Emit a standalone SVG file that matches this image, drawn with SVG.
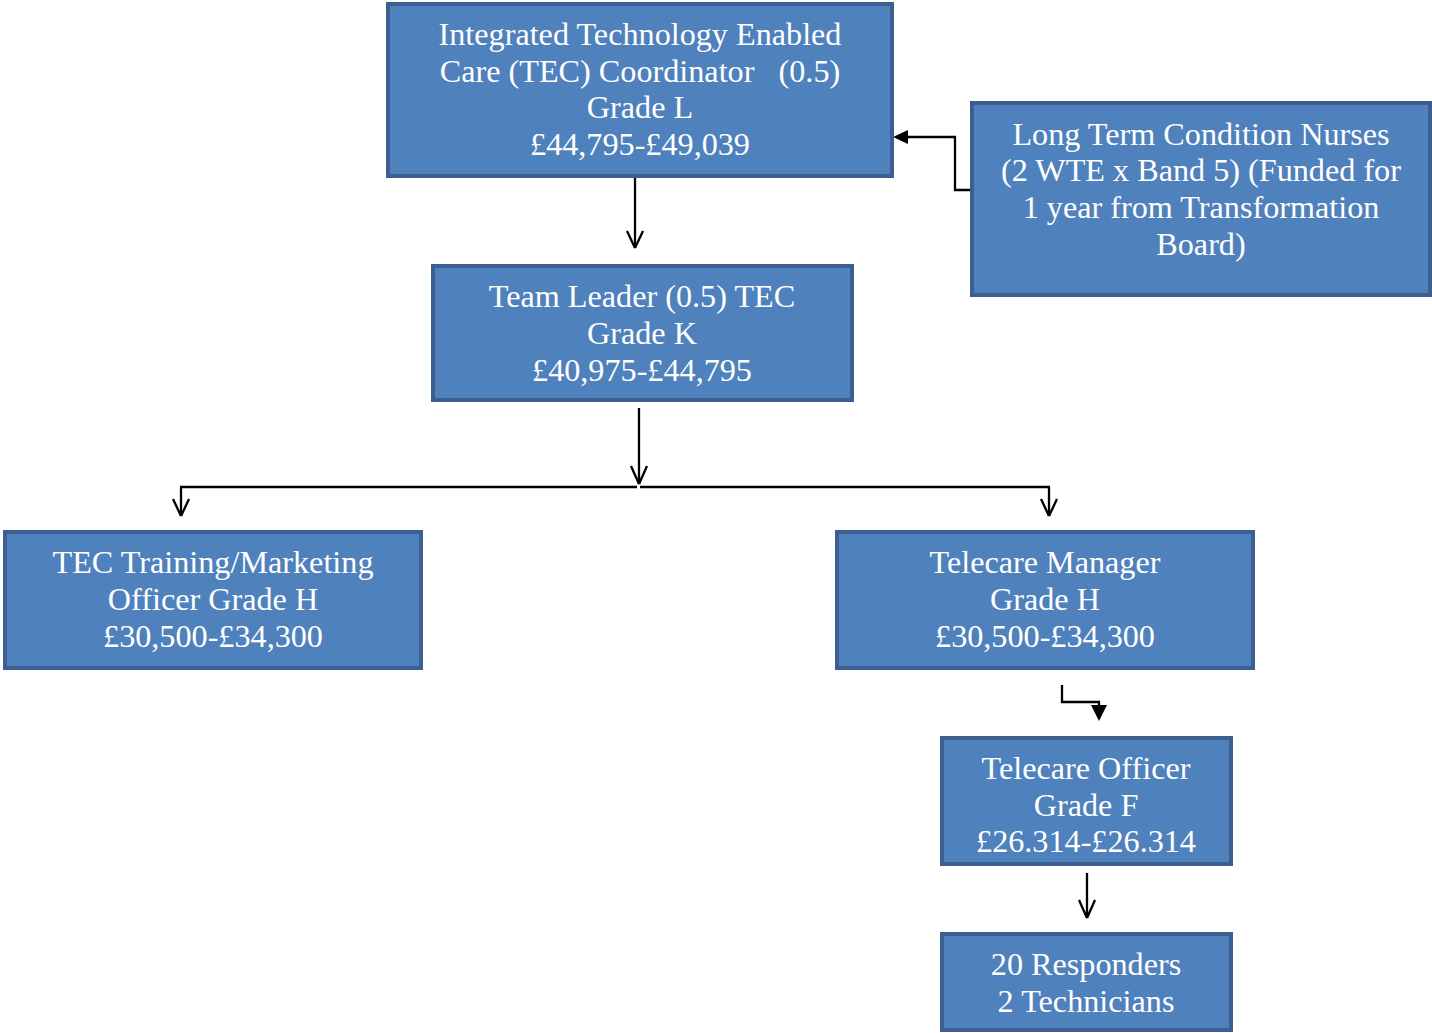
<svg xmlns="http://www.w3.org/2000/svg" width="1432" height="1033" viewBox="0 0 1432 1033">
<style>
.box{fill:#4f81bd;stroke:#3b6090;stroke-width:4}
.t{font-family:"Liberation Serif","Times New Roman",serif;font-size:32.2px;fill:#ffffff;text-anchor:middle}
.c{fill:none;stroke:#000;stroke-width:2.3}
</style>
<rect width="1432" height="1033" fill="#ffffff"/>
<g id="connectors">
<line class="c" x1="635" y1="178" x2="635" y2="248"/>
<path d="M635,248 L627,231 M635,248 L643,231" class="c"/>
<polyline class="c" points="971,190 955,190 955,137 906,137"/>
<polygon points="893,137 908,130 908,144" fill="#000"/>
<line class="c" x1="639" y1="408" x2="639" y2="484"/>
<path d="M639,484 L631,466 M639,484 L647,466" class="c"/>
<line class="c" x1="180" y1="487" x2="637" y2="487"/>
<line class="c" x1="640" y1="487" x2="1050" y2="487"/>
<line class="c" x1="181" y1="487" x2="181" y2="516"/>
<path d="M181,516 L173,499 M181,516 L189,499" class="c"/>
<line class="c" x1="1049" y1="487" x2="1049" y2="516"/>
<path d="M1049,516 L1041,499 M1049,516 L1057,499" class="c"/>
<polyline class="c" points="1062,685 1062,702 1099,702 1099,706"/>
<polygon points="1091,705 1107,705 1099,721" fill="#000"/>
<line class="c" x1="1087" y1="873" x2="1087" y2="918"/>
<path d="M1087,918 L1079,900 M1087,918 L1095,900" class="c"/>
</g>
<g id="coordinator">
<rect class="box" x="388" y="4" width="504" height="172"/>
<text class="t" x="640" y="45">Integrated Technology Enabled</text>
<text class="t" x="640" y="82" xml:space="preserve">Care (TEC) Coordinator   (0.5)</text>
<text class="t" x="640" y="118">Grade L</text>
<text class="t" x="640" y="155">£44,795-£49,039</text>
</g>
<g id="ltc-nurses">
<rect class="box" x="972" y="103" width="458" height="192"/>
<text class="t" x="1201" y="145">Long Term Condition Nurses</text>
<text class="t" x="1201" y="181">(2 WTE x Band 5) (Funded for</text>
<text class="t" x="1201" y="218">1 year from Transformation</text>
<text class="t" x="1201" y="255">Board)</text>
</g>
<g id="team-leader">
<rect class="box" x="433" y="266" width="419" height="134"/>
<text class="t" x="642" y="307">Team Leader (0.5) TEC</text>
<text class="t" x="642" y="344">Grade K</text>
<text class="t" x="642" y="381">£40,975-£44,795</text>
</g>
<g id="training-officer">
<rect class="box" x="5" y="532" width="416" height="136"/>
<text class="t" x="213" y="573">TEC Training/Marketing</text>
<text class="t" x="213" y="610">Officer Grade H</text>
<text class="t" x="213" y="647">£30,500-£34,300</text>
</g>
<g id="telecare-manager">
<rect class="box" x="837" y="532" width="416" height="136"/>
<text class="t" x="1045" y="573">Telecare Manager</text>
<text class="t" x="1045" y="610">Grade H</text>
<text class="t" x="1045" y="647">£30,500-£34,300</text>
</g>
<g id="telecare-officer">
<rect class="box" x="942" y="738" width="289" height="126"/>
<text class="t" x="1086" y="779">Telecare Officer</text>
<text class="t" x="1086" y="816">Grade F</text>
<text class="t" x="1086" y="852">£26.314-£26.314</text>
</g>
<g id="responders">
<rect class="box" x="942" y="934" width="289" height="96"/>
<text class="t" x="1086" y="975">20 Responders</text>
<text class="t" x="1086" y="1012">2 Technicians</text>
</g>
</svg>
